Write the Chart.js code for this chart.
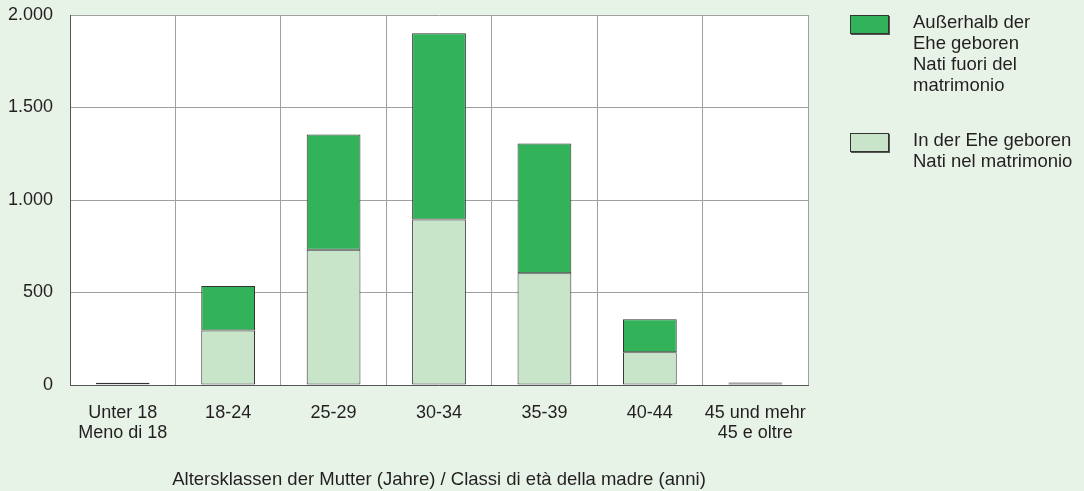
<!DOCTYPE html>
<html>
<head>
<meta charset="utf-8">
<script src="https://cdn.jsdelivr.net/npm/chart.js@4"></script>
<style>
  body { margin: 0; background: #e8f3e8; font-family: "Liberation Sans", Arial, sans-serif; }
  #wrap { position: relative; width: 1084px; height: 491px; }
  canvas { position: absolute; left: 0; top: 0; }
  .lg-box { position: absolute; left: 850px; width: 37px; height: 17px; border: 1px solid #333; box-shadow: 1px 1px 0 #555; }
  .lg-text { position: absolute; left: 913px; font-size: 18.5px; line-height: 21px; color: #231f20; }
</style>
</head>
<body>
<div id="wrap">
  <canvas id="birthsChart" width="1084" height="491"></canvas>
  <div class="lg-box" style="top:15px; background:#32b35a;"></div>
  <div class="lg-text" style="top:11px;">Außerhalb der<br>Ehe geboren<br>Nati fuori del<br>matrimonio</div>
  <div class="lg-box" style="top:133px; background:#c8e5c9;"></div>
  <div class="lg-text" style="top:129px;">In der Ehe geboren<br>Nati nel matrimonio</div>
</div>
<script>
const ageClasses = [['Unter 18', 'Meno di 18'], '18-24', '25-29', '30-34', '35-39', '40-44', ['45 und mehr', '45 e oltre']];
const inMarriage = [4, 295, 731, 895, 604, 177, 8];
const outOfMarriage = [8, 240, 623, 1006, 701, 178, 5];
const yTicks = [0, 500, 1000, 1500, 2000];

const ctx = document.getElementById('birthsChart').getContext('2d');
const chart = new Chart(ctx, {
    type: 'bar',
    data: {
        labels: ageClasses,
        datasets: [{
            label: 'In der Ehe geboren / Nati nel matrimonio',
            data: inMarriage,
            backgroundColor: '#c8e5c9',
            borderColor: '#333',
            borderWidth: 1,
            borderSkipped: false,
            barPercentage: 0.51,
            categoryPercentage: 1
        }, {
            label: 'Außerhalb der Ehe geboren / Nati fuori del matrimonio',
            data: outOfMarriage,
            backgroundColor: '#32b35a',
            borderColor: '#333',
            borderWidth: 1,
            borderSkipped: false,
            barPercentage: 0.51,
            categoryPercentage: 1
        }]
    },
    plugins: [{
        id: 'plotBg',
        beforeDraw(c) {
            const a = c.chartArea;
            c.ctx.save();
            c.ctx.fillStyle = '#fff';
            c.ctx.fillRect(a.left, a.top, a.right - a.left, a.bottom - a.top);
            c.ctx.restore();
        }
    }],
    options: {
        responsive: false,
        animation: false,
        layout: { padding: { top: 15, right: 276, bottom: 0, left: 0 } },
        plugins: {
            legend: { display: false },
            tooltip: { enabled: false }
        },
        scales: {
            x: {
                stacked: true,
                grid: { offset: true, color: '#a0a0a0', drawTicks: false },
                border: { color: '#555' },
                ticks: {
                    padding: 18,
                    color: '#231f20',
                    maxRotation: 0,
                    font: { family: 'Liberation Sans', size: 18, lineHeight: 1.11 }
                },
                title: {
                    display: true,
                    text: 'Altersklassen der Mutter (Jahre) / Classi di età della madre (anni)',
                    color: '#231f20',
                    font: { family: 'Liberation Sans', size: 18.5 },
                    padding: { top: 0, bottom: 0 }
                },
                afterFit(scale) { scale.height = 106; }
            },
            y: {
                stacked: true,
                min: 0,
                max: 2000,
                afterBuildTicks(scale) { scale.ticks = yTicks.map(v => ({ value: v })); },
                grid: { color: '#a0a0a0', drawTicks: false },
                border: { color: '#555' },
                ticks: {
                    padding: 17,
                    color: '#231f20',
                    font: { family: 'Liberation Sans', size: 18 },
                    callback: v => v.toLocaleString('de-DE')
                },
                afterFit(scale) {
                    scale.width = 70;
                    scale.paddingTop = 0;
                    scale.paddingBottom = 0;
                }
            }
        }
    }
});
</script>
</body>
</html>
